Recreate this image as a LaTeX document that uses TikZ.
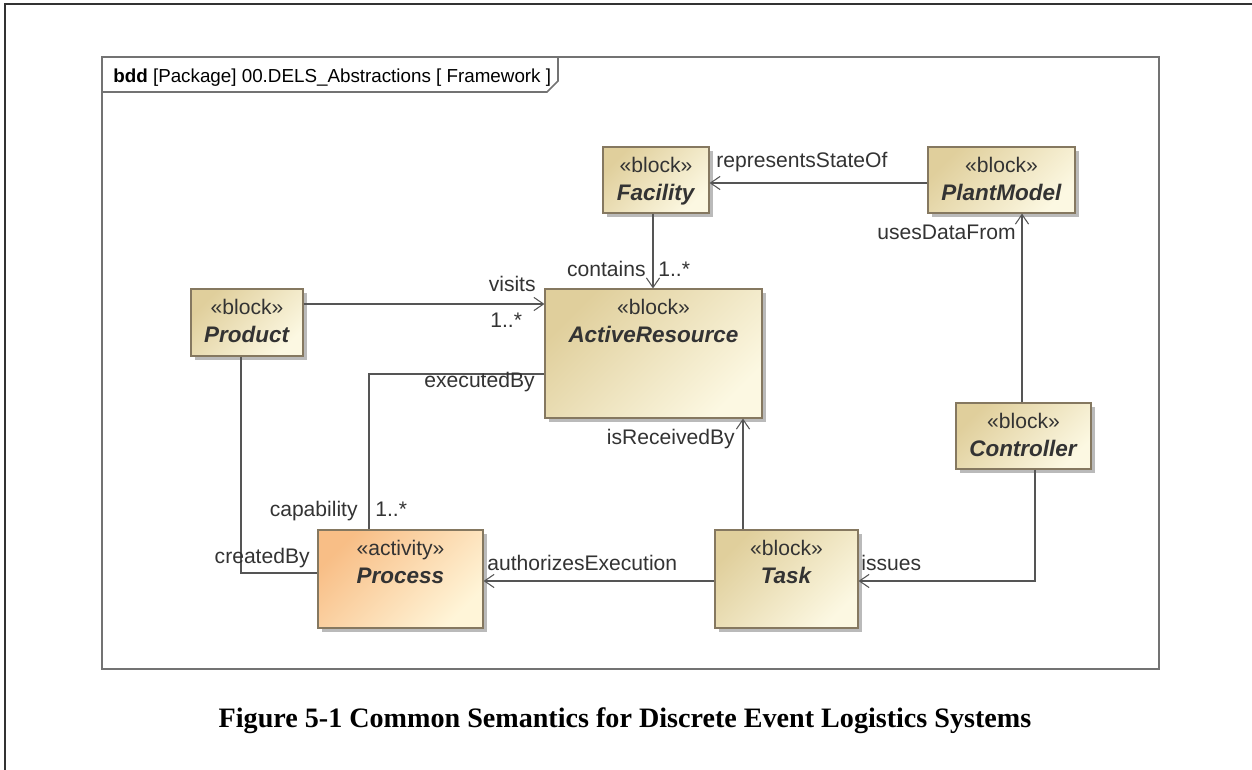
\documentclass[tikz,border=0pt]{standalone}
\usepackage{fontspec}
\setmainfont{Liberation Sans}
\newfontfamily\captionfont{Liberation Serif}
\usetikzlibrary{arrows.meta,fit,shadows}

\definecolor{blockdark}{HTML}{E0CF9C}
\definecolor{blocklight}{HTML}{FCF8E2}
\definecolor{actdark}{HTML}{F8BE86}
\definecolor{actlight}{HTML}{FFF5D8}
\definecolor{blockline}{HTML}{857860}
\definecolor{wire}{HTML}{555555}

\newcommand{\blockname}[1]{{\fontsize{12.8}{16}\selectfont\textbf{\textit{#1}}}}

\begin{document}
\begin{tikzpicture}[x=0.02cm,y=-0.02cm,
    block/.style={draw=blockline,line width=0.6pt,inner sep=0pt,top color=blockdark,bottom color=blocklight,shading angle=45,
        drop shadow={shadow xshift=2.2pt,shadow yshift=-2.2pt,fill=black!45,opacity=0.6}},
    activity/.style={block,top color=actdark,bottom color=actlight,shading angle=45},
    blocktext/.style={anchor=north,align=center,inner sep=0pt,font=\fontsize{12}{16}\selectfont,text=black!80},
    role/.style={inner sep=0pt,font=\fontsize{12}{14}\selectfont,text=black!80},
    assoc/.style={draw=wire,line width=0.6pt},
    dir/.style={assoc,-{Straight Barb[length=5.5pt,width=7.5pt]}}]
\useasboundingbox (0,0) rectangle (1252,770);
\draw[line width=1.2pt,black!80] (5,770) -- (5,4) -- (1252,4);

\draw[line width=0.9pt,black!55] (102,57) rectangle (1159,669);
\draw[line width=0.9pt,black!55] (102,92) -- (547,92) -- (558,81) -- (558,57);
\node[anchor=base west,inner sep=0pt,font=\fontsize{10.7}{12}\selectfont] (title) at (113,83) {\textbf{bdd} [Package] 00.DELS\_Abstractions [ Framework ]};

\node[block,fit={(603,147) (709,213)}] (fac) {};
\node[blocktext] (facText) at ([yshift=-5.7pt]fac.north) {«block»\\\blockname{Facility}};
\node[block,fit={(928,147) (1075,213)}] (plant) {};
\node[blocktext] (plantText) at ([yshift=-5.7pt]plant.north) {«block»\\\blockname{PlantModel}};
\node[block,fit={(191,289) (303,356)}] (prod) {};
\node[blocktext] (prodText) at ([yshift=-5.7pt]prod.north) {«block»\\\blockname{Product}};
\node[block,fit={(545,289) (762,418)}] (res) {};
\node[blocktext] (resText) at ([yshift=-5.7pt]res.north) {«block»\\\blockname{ActiveResource}};
\node[block,fit={(956,403) (1091,469)}] (ctrl) {};
\node[blocktext] (ctrlText) at ([yshift=-5.7pt]ctrl.north) {«block»\\\blockname{Controller}};
\node[block,fit={(715,530) (858,628)}] (task) {};
\node[blocktext] (taskText) at ([yshift=-5.7pt]task.north) {«block»\\\blockname{Task}};
\node[activity,fit={(318,530) (483,628)}] (proc) {};
\node[blocktext] (procText) at ([yshift=-5.7pt]proc.north) {«activity»\\\blockname{Process}};

\draw[dir] (plant.west |- 0,183) -- (fac.east |- 0,183);
\draw[dir] (fac.south -| 653,0) -- (res.north -| 653,0);
\draw[dir] (prod.east |- 0,304) -- (res.west |- 0,304);
\draw[assoc] (res.west |- 0,374) -| (proc.north -| 369,0);
\draw[assoc] (prod.south -| 241,0) |- (proc.west |- 0,573);
\draw[dir] (task.west |- 0,581) -- (proc.east |- 0,581);
\draw[dir] (task.north -| 743,0) -- (res.south -| 743,0);
\draw[dir] (ctrl.south -| 1035,0) |- (task.east |- 0,581);
\draw[dir] (ctrl.north -| 1022,0) -- (plant.south -| 1022,0);

\node[role,anchor=base west] (lState) at (716,168) {representsStateOf};
\node[role,anchor=base east] (lUses) at (1016,240) {usesDataFrom};
\node[role,anchor=base east] (lContains) at (646,277) {contains};
\node[role,anchor=base west] (mContains) at (658,277) {1..*};
\node[role,anchor=base east] (lVisits) at (536,292) {visits};
\node[role,anchor=base west] (mVisits) at (490,328) {1..*};
\node[role,anchor=base east] (lExec) at (535,388) {executedBy};
\node[role,anchor=base east] (lCap) at (358,517) {capability};
\node[role,anchor=base west] (mCap) at (375,517) {1..*};
\node[role,anchor=base east] (lCreated) at (310,563) {createdBy};
\node[role,anchor=base west] (lAuth) at (487,570) {authorizesExecution};
\node[role,anchor=base east] (lRecv) at (735,444) {isReceivedBy};
\node[role,anchor=base west] (lIssues) at (861,570) {issues};

\node[anchor=base,inner sep=0pt,font=\captionfont\bfseries\fontsize{16}{18}\selectfont] (caption) at (625,727) {Figure 5-1 Common Semantics for Discrete Event Logistics Systems};
\end{tikzpicture}
\end{document}
